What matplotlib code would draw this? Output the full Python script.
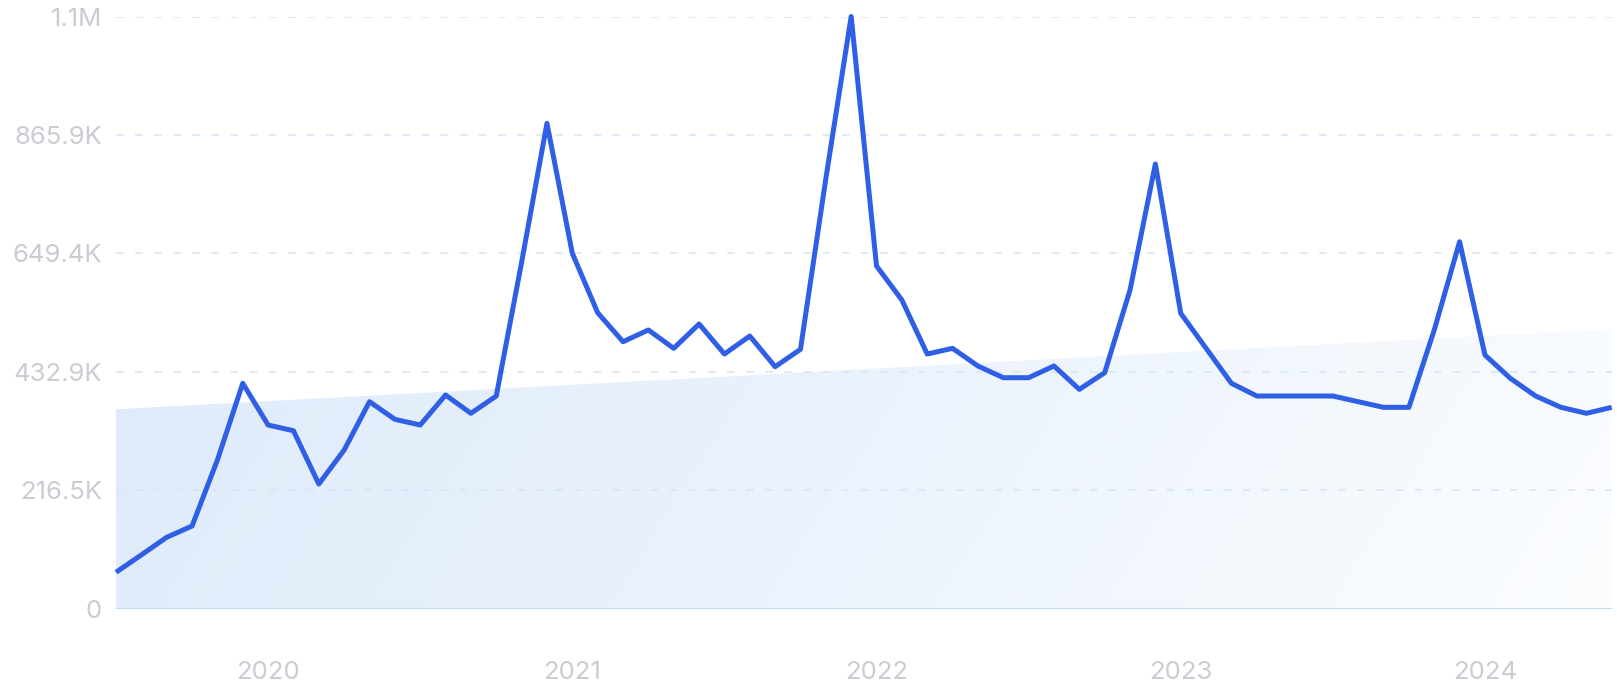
import numpy as np
import matplotlib
matplotlib.use('Agg')
import matplotlib.pyplot as plt
from matplotlib.patches import Polygon
from matplotlib.colors import LinearSegmentedColormap

plt.rcParams['font.family'] = ['Inter', 'DejaVu Sans']

# monthly values, Jul 2019 .. Jun 2024
values = [66.2, 98.0, 130.2, 150.8, 271.5, 411.7, 335.5, 325.0, 227.6, 289.8, 378.1, 345.9,
          335.5, 390.3, 356.9, 388.5, 633.0, 887.1, 649.4, 540.8, 487.8, 509.2, 475.7, 520.2,
          465.3, 498.2, 442.1, 473.9, 785.8, 1082.4, 626.2, 564.0, 465.3, 475.7, 443.4, 422.0,
          422.0, 443.4, 400.7, 431.1, 582.3, 812.7, 539.7, 475.7, 411.7, 388.5, 388.5, 388.5,
          388.5, 378.1, 367.8, 367.8, 509.2, 670.6, 463.5, 420.9, 388.5, 367.8, 356.9, 367.8]
values = [v * 1000 for v in values]
trend_start, trend_end = 364200, 511000

year_labels = ['2020', '2021', '2022', '2023', '2024']
year_idx = [6, 18, 30, 42, 54]
ytick_vals = [0, 216480, 432960, 649440, 865920, 1082400]
ytick_labels = ['0', '216.5K', '432.9K', '649.4K', '865.9K', '1.1M']

x = np.arange(len(values))
ymax = ytick_vals[-1]

fig = plt.figure(figsize=(16.17, 7.0), dpi=100)
ax = fig.add_axes([116 / 1617, 91.5 / 700, (1611.7 - 116) / 1617, 592 / 700])
ax.set_xlim(0, len(values) - 1)
ax.set_ylim(0, ymax)

# gradient trend area
cmap = LinearSegmentedColormap.from_list('g', ['#dbe9fa', '#eaf2fc', '#fbfdff'])
gx, gy = np.meshgrid(np.linspace(0, 1, 300), np.linspace(0, 1, 100))
grad = 0.8 * gx + 0.2 * (1 - gy)
im = ax.imshow(grad, cmap=cmap, extent=[0, len(values) - 1, 0, ymax],
               origin='lower', aspect='auto', zorder=1)
poly = Polygon([[0, 0], [0, trend_start], [len(values) - 1, trend_end], [len(values) - 1, 0]],
               closed=True, transform=ax.transData, facecolor='none', edgecolor='none')
ax.add_patch(poly)
im.set_clip_path(poly)

for v in ytick_vals[1:]:
    ax.axhline(v, color='#d3e6f7', lw=1.1, linestyle=(0, (5, 7.5)), zorder=2)
ax.axhline(0, color='#bfe0fb', lw=1.5, zorder=2)

ax.plot(x, values, color='#2f5fe5', lw=3.6, zorder=3, solid_joinstyle='round',
        solid_capstyle='butt', clip_on=False)

for s in ax.spines.values():
    s.set_visible(False)
ax.set_yticks(ytick_vals)
ax.set_yticklabels(ytick_labels)
ax.set_xticks(year_idx)
ax.set_xticklabels(year_labels)
ax.tick_params(axis='both', length=0, colors='#cbccd3', labelsize=18.5)
ax.tick_params(axis='y', pad=10)
ax.tick_params(axis='x', pad=38)

fig.savefig('out.png', dpi=100, facecolor='white')
